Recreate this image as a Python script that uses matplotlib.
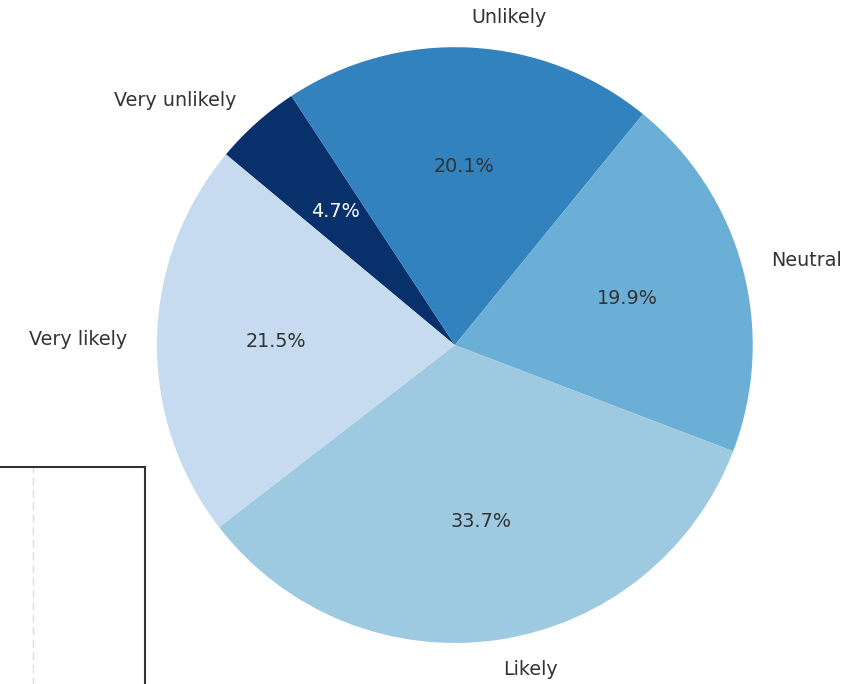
import matplotlib
matplotlib.use("Agg")
import matplotlib.pyplot as plt

plt.rcParams["font.family"] = ["DejaVu Sans"]

labels = ["Very unlikely", "Unlikely", "Neutral", "Likely", "Very likely"]
shares = [4.7, 20.1, 19.9, 33.7, 21.5]
colors = ["#08306b", "#3182bd", "#6baed6", "#9ecae1", "#c6dbef"]

fig = plt.figure(figsize=(8.68, 6.84), dpi=100)

# partially visible neighbouring panel (bottom-left)
ax2 = fig.add_axes([-0.2, -0.2, 0.367, 0.517])
ax2.set_xlim(0, 1)
ax2.set_ylim(0, 1)
ax2.axvline(0.648, color="#dddddd", linestyle=(0, (6, 3)), linewidth=1)
ax2.set_xticks([])
ax2.set_yticks([])
for s in ax2.spines.values():
    s.set_color("#333333")
    s.set_linewidth(1.5)

ax = fig.add_axes([0.095, -0.049, 0.858, 1.089])
wedges, texts, autotexts = ax.pie(
    shares, labels=labels, colors=colors, autopct="%1.1f%%",
    startangle=140.2, counterclock=False, labeldistance=1.1, pctdistance=0.6,
    textprops={"fontsize": 13.75, "color": "#333333"},
)
autotexts[0].set_color("white")
ax.set_aspect("equal")

fig.savefig("out.png", dpi=100)
